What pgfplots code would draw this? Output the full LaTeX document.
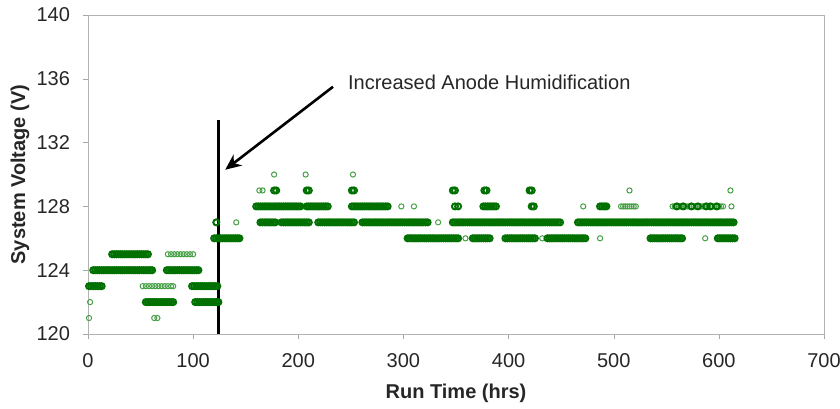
\documentclass[border=0pt]{standalone}
\usepackage{fontspec}
\setmainfont{Liberation Sans}
\usepackage{pgfplots}
\pgfplotsset{compat=1.18}
\usetikzlibrary{arrows.meta}

\definecolor{dgreen}{RGB}{0,112,0}
\definecolor{lgreen}{RGB}{70,160,70}

\begin{document}
\begin{tikzpicture}
\useasboundingbox (-44pt,-37pt) rectangle (376pt,167pt);
\begin{axis}[
    at={(0,0)}, anchor=south west,
    width=368pt, height=159.5pt, scale only axis,
    xmin=0, xmax=700, ymin=120, ymax=140,
    xtick={0,100,...,700}, ytick={120,124,...,140},
    xtick pos=left, ytick pos=left,
    tick align=outside, major tick length=2.5pt,
    axis line style={draw=gray!60},
    tick style={draw=gray!70},
    /pgf/number format/assume math mode=true,
    ticklabel style={font=\fontsize{10}{12}\selectfont, text=black!85},
    yticklabel style={xshift=-3pt},
    xticklabel style={yshift=-3.5pt},
    xlabel={Run Time (hrs)}, ylabel={System Voltage (V)},
    xlabel style={at={(axis description cs:0.5,-0.185)}, anchor=center, font=\fontsize{10}{12}\selectfont\bfseries, text=black!85},
    ylabel style={at={(axis description cs:-0.0924,0.5)}, anchor=center, font=\fontsize{10}{12}\selectfont\bfseries, text=black!85},
    clip=false,
    dense/.style={only marks, mark=o, mark size=1.5pt, mark options={draw=dgreen, line width=1.0pt}},
    sparse/.style={only marks, mark=o, mark size=1.3pt, mark options={draw=lgreen, line width=0.5pt}},
]
% ---- before humidification change ----
\addplot[dense] coordinates {
(23,125)(25,125)(27,125)(29,125)(31,125)(33,125)(35,125)(37,125)(39,125)(41,125)(43,125)(45,125)(47,125)(49,125)(51,125)(53,125)(55,125)(57,125)
(5,124)(7,124)(9,124)(11,124)(13,124)(15,124)(17,124)(19,124)(21,124)(23,124)(25,124)(27,124)(29,124)(31,124)(33,124)(35,124)(37,124)(39,124)(41,124)(43,124)(45,124)(47,124)(49,124)(51,124)(53,124)(55,124)(57,124)(59,124)(61,124)
(75,124)(77,124)(79,124)(81,124)(83,124)(85,124)(87,124)(89,124)(91,124)(93,124)(95,124)(97,124)(99,124)(101,124)(103,124)(105,124)
(1,123)(3,123)(5,123)(7,123)(9,123)(11,123)(13,123)
(99,123)(101,123)(103,123)(105,123)(107,123)(109,123)(111,123)(113,123)(115,123)(117,123)(119,123)(121,123)(123,123)
(55,122)(57,122)(59,122)(61,122)(63,122)(65,122)(67,122)(69,122)(71,122)(73,122)(75,122)(77,122)(79,122)(81,122)
(102,122)(104,122)(106,122)(108,122)(110,122)(112,122)(114,122)(116,122)(118,122)(120,122)(122,122)(124,122)
};
\addplot[sparse] coordinates {
(76,125)(79,125)(82,125)(85,125)(88,125)(91,125)(94,125)(97,125)(100,125)
(52,123)(55,123)(58,123)(61,123)(64,123)(67,123)(70,123)(73,123)(76,123)(79,123)(81,123)
(2,122)(1,121)(63,121)(66,121)
};
% ---- after humidification change ----
\addplot[dense] coordinates {
(120,126)(122,126)(124,126)(126,126)(128,126)(130,126)(132,126)(134,126)(136,126)(138,126)(140,126)(142,126)(144,126)
(122,127)
};
\addplot[sparse] coordinates {(141,127)(163,129)(166,129)(177,130)(207,130)(252,130)(515,129)(611,129)(298,128)(310,128)(471,128)(612,128)(359,126)(432,126)(487,126)(587,126)(333,127)};
% 129 V
\addplot[dense] coordinates {
(177,129)(179,129)(208,129)(210,129)(251,129)(253,129)(347,129)(349,129)(377,129)(379,129)(420,129)(422,129)
};
% 128 V
\addplot[dense] coordinates {
(160,128)(162,128)(164,128)(166,128)(168,128)(170,128)(172,128)(174,128)(176,128)(178,128)(180,128)(182,128)(184,128)(186,128)(188,128)(190,128)(192,128)(194,128)(196,128)(198,128)(200,128)(202,128)
(208,128)(210,128)(212,128)(214,128)(216,128)(218,128)(220,128)(222,128)(224,128)(226,128)(228,128)
(251,128)(253,128)(255,128)(257,128)(259,128)(261,128)(263,128)(265,128)(267,128)(269,128)(271,128)(273,128)(275,128)(277,128)(279,128)(281,128)(283,128)(285,128)
(349,128)(352,128)
(376,128)(378,128)(380,128)(382,128)(384,128)(386,128)(388,128)
(422,128)(424,128)
(487,128)(489,128)(491,128)(493,128)
};
\addplot[sparse] coordinates {
(507,128)(509,128)(511,128)(513,128)(515,128)(517,128)(519,128)(521,128)
(556,128)(558,128)(560,128)(562,128)(564,128)(566,128)(568,128)(570,128)(572,128)(574,128)(576,128)(578,128)(580,128)(582,128)(584,128)(586,128)(588,128)(590,128)(592,128)(594,128)(596,128)(598,128)(600,128)(602,128)(604,128)
};
\addplot[dense] coordinates {
(560,128)(566,128)(574,128)(580,128)(588,128)(592,128)(598,128)
};
% 127 V
\addplot[dense] coordinates {
(164,127)(166,127)(168,127)(170,127)(172,127)(174,127)(176,127)(178,127)
(184,127)(186,127)(188,127)(190,127)(192,127)(194,127)(196,127)(198,127)(200,127)(202,127)(204,127)(206,127)(208,127)(210,127)
(219,127)(221,127)(223,127)(225,127)(227,127)(229,127)(231,127)(233,127)(235,127)(237,127)(239,127)(241,127)(243,127)(245,127)(247,127)(249,127)(251,127)(253,127)
(261,127)(263,127)(265,127)(267,127)(269,127)(271,127)(273,127)(275,127)(277,127)(279,127)(281,127)(283,127)(285,127)(287,127)(289,127)(291,127)(293,127)(295,127)(297,127)(299,127)(301,127)(303,127)(305,127)(307,127)(309,127)(311,127)(313,127)(315,127)(317,127)(319,127)(321,127)(323,127)
(347,127)(349,127)(351,127)(353,127)(355,127)(357,127)(359,127)(361,127)(363,127)(365,127)(367,127)(369,127)(371,127)(373,127)(375,127)(377,127)(379,127)(381,127)(383,127)(385,127)(387,127)(389,127)(391,127)(393,127)(395,127)(397,127)(399,127)(401,127)(403,127)(405,127)(407,127)(409,127)(411,127)(413,127)(415,127)(417,127)(419,127)(421,127)(423,127)(425,127)(427,127)(429,127)(431,127)(433,127)(435,127)(437,127)(439,127)(441,127)(443,127)(445,127)(447,127)(449,127)
(466,127)(468,127)(470,127)(472,127)(474,127)(476,127)(478,127)(480,127)(482,127)(484,127)(486,127)(488,127)(490,127)(492,127)(494,127)(496,127)(498,127)(500,127)(502,127)(504,127)(506,127)(508,127)(510,127)(512,127)(514,127)(516,127)(518,127)(520,127)(522,127)(524,127)(526,127)(528,127)(530,127)(532,127)(534,127)(536,127)(538,127)(540,127)(542,127)(544,127)(546,127)(548,127)(550,127)(552,127)(554,127)(556,127)(558,127)(560,127)(562,127)(564,127)(566,127)(568,127)(570,127)(572,127)(574,127)(576,127)(578,127)(580,127)(582,127)(584,127)(586,127)(588,127)(590,127)(592,127)(594,127)(596,127)(598,127)(600,127)(602,127)(604,127)(606,127)(608,127)(610,127)(612,127)(614,127)
};
% 126 V
\addplot[dense] coordinates {
(304,126)(306,126)(308,126)(310,126)(312,126)(314,126)(316,126)(318,126)(320,126)(322,126)(324,126)(326,126)(328,126)(330,126)(332,126)(334,126)(336,126)(338,126)(340,126)(342,126)(344,126)(346,126)(348,126)(350,126)(352,126)
(366,126)(368,126)(370,126)(372,126)(374,126)(376,126)(378,126)(380,126)(382,126)
(397,126)(399,126)(401,126)(403,126)(405,126)(407,126)(409,126)(411,126)(413,126)(415,126)(417,126)(419,126)(421,126)(423,126)(425,126)
(437,126)(439,126)(441,126)(443,126)(445,126)(447,126)(449,126)(451,126)(453,126)(455,126)(457,126)(459,126)(461,126)(463,126)(465,126)(467,126)(469,126)(471,126)(473,126)
(535,126)(537,126)(539,126)(541,126)(543,126)(545,126)(547,126)(549,126)(551,126)(553,126)(555,126)(557,126)(559,126)(561,126)(563,126)(565,126)
(599,126)(601,126)(603,126)(605,126)(607,126)(609,126)(611,126)(613,126)(615,126)
};
% event marker
\addplot[black, line width=1.7pt, mark=none] coordinates {(124,120) (124,133.4)};
\draw[line width=1.3pt, -{Stealth[length=8pt,width=7pt]}] (axis cs:233,135.5) -- (axis cs:130.5,130.3);
\node[anchor=west, inner sep=0pt, font=\fontsize{10}{12}\selectfont, text=black!85] at (axis cs:247,135.8) {Increased Anode Humidification};
\end{axis}
\end{tikzpicture}
\end{document}
